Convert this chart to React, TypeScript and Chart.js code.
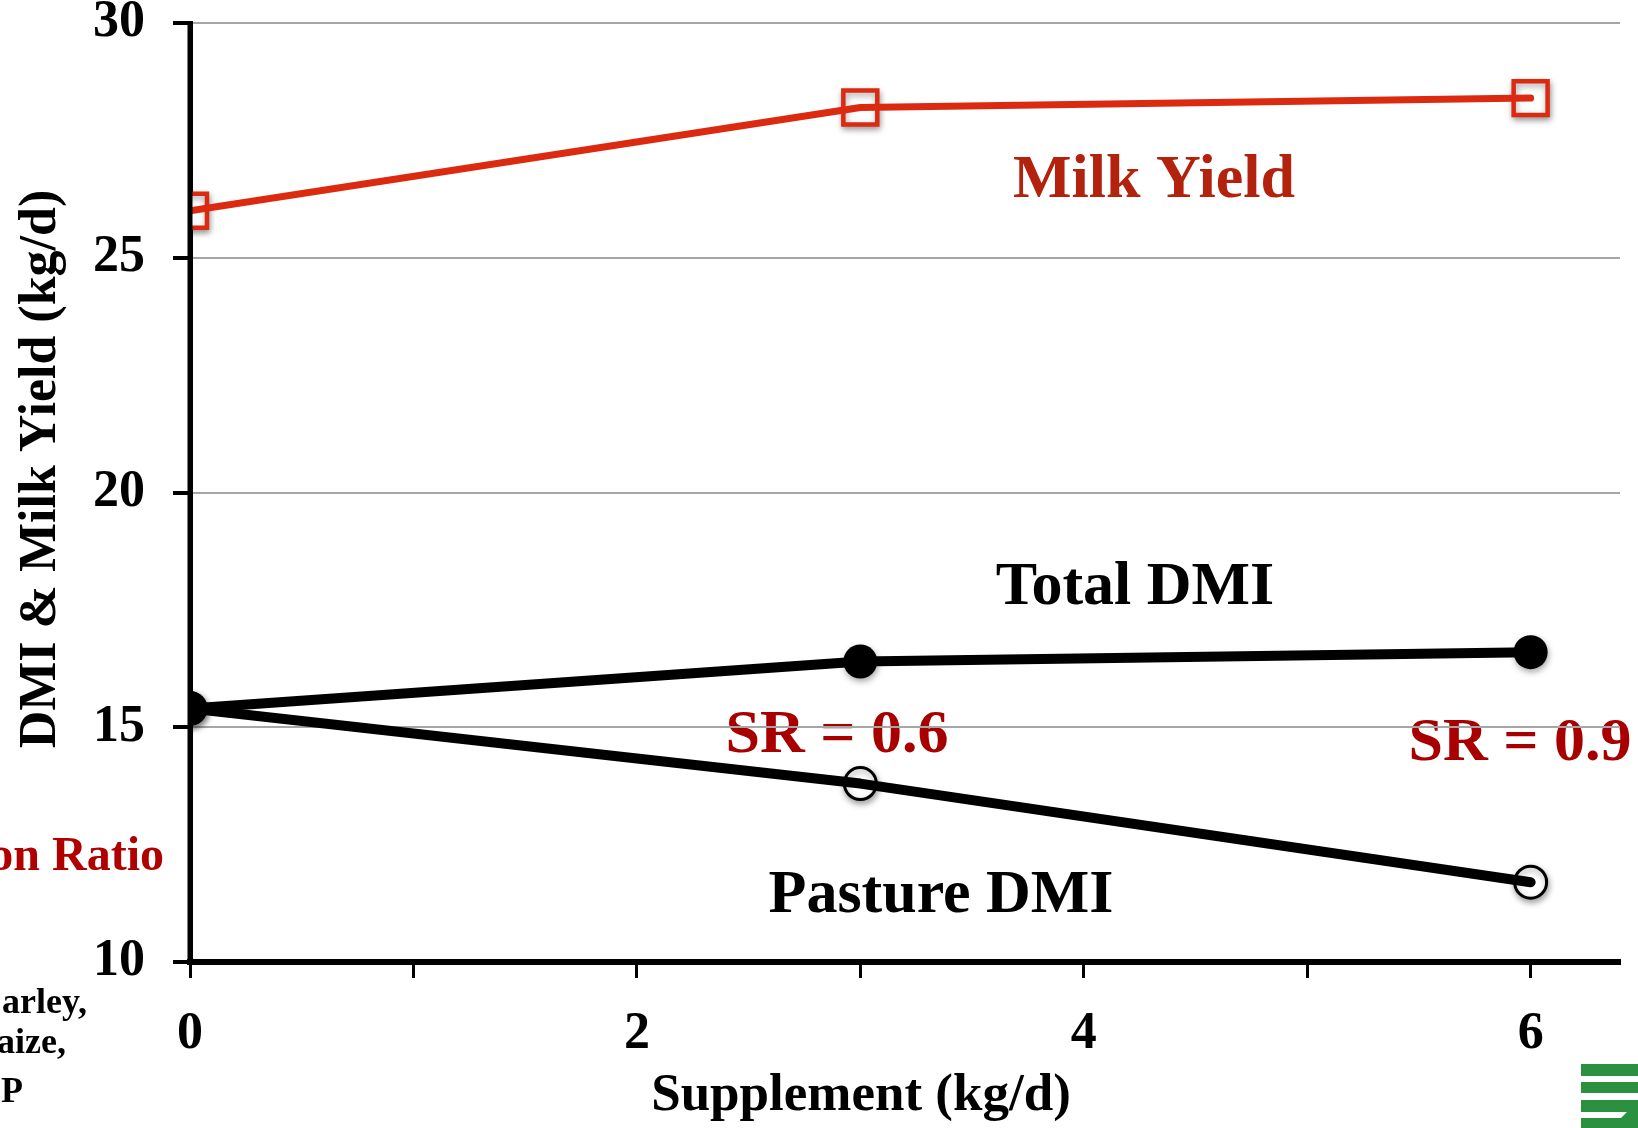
import React, { useEffect, useRef } from 'react';
import { Chart, registerables } from 'chart.js';

Chart.register(...registerables);

// ---- data ----
const supplement = [0, 3, 6];
const milkYield = [26.0, 28.2, 28.4];
const totalDMI = [15.4, 16.4, 16.6];
const pastureDMI = [15.4, 13.8, 11.7];

const xTickValues = [0, 1, 2, 3, 4, 5, 6];
const xTickLabels = ['0', '', '2', '', '4', '', '6'];
const yTickValues = [10, 15, 20, 25, 30];

const xTitle = 'Supplement (kg/d)';
const yTitle = 'DMI & Milk Yield (kg/d)';

const annotationTexts = ['Milk Yield', 'Total DMI', 'Pasture DMI', 'SR = 0.6', 'SR = 0.9', 'on Ratio', 'arley,', 'aize,', 'P'];

// ---- styles ----
const SERIF = "'Liberation Serif', 'Times New Roman', serif";
const W = 1638;
const H = 1128;

const annotationStyle = [
  { x: 1154, y: 197, color: '#b3220c', size: 62, align: 'center' },
  { x: 1135, y: 604, color: '#000000', size: 62, align: 'center' },
  { x: 941, y: 912, color: '#000000', size: 62, align: 'center' },
  { x: 837, y: 752, color: '#a80000', size: 62, align: 'center' },
  { x: 1520, y: 760, color: '#a80000', size: 62, align: 'center' },
  { x: 164, y: 870, color: '#b00000', size: 48, align: 'right' },
  { x: 87, y: 1013, color: '#000000', size: 36, align: 'right' },
  { x: 66, y: 1053, color: '#000000', size: 36, align: 'right' },
  { x: 23, y: 1102, color: '#000000', size: 36, align: 'right' },
];

const decorPlugin = {
  id: 'decor',
  beforeDraw(chart: any) {
    const ctx = chart.ctx;
    ctx.save();
    ctx.fillStyle = '#ffffff';
    ctx.fillRect(0, 0, chart.width, chart.height);
    annotationTexts.forEach((t, i) => {
      const s = annotationStyle[i];
      ctx.font = `bold ${s.size}px ${SERIF}`;
      ctx.fillStyle = s.color;
      ctx.textAlign = s.align;
      ctx.textBaseline = 'alphabetic';
      ctx.fillText(t, s.x, s.y);
    });
    ctx.restore();
  },
  beforeDatasetDraw(chart: any, args: any) {
    const ds = chart.data.datasets[args.index];
    if (ds && ds.shadow) {
      const ctx = chart.ctx;
      ctx.save();
      ctx.shadowColor = 'rgba(0,0,0,0.35)';
      ctx.shadowBlur = 6;
      ctx.shadowOffsetX = 1;
      ctx.shadowOffsetY = 3;
    }
  },
  afterDatasetDraw(chart: any, args: any) {
    const ds = chart.data.datasets[args.index];
    if (ds && ds.shadow) chart.ctx.restore();
  },
  afterDatasetsDraw(chart: any) {
    // y axis line drawn over the markers
    const ctx = chart.ctx;
    const xs = chart.scales.x;
    const ys = chart.scales.y;
    const x0 = xs.getPixelForValue(0);
    ctx.save();
    ctx.strokeStyle = '#000000';
    ctx.lineWidth = 5;
    ctx.beginPath();
    ctx.moveTo(x0, ys.getPixelForValue(30));
    ctx.lineTo(x0, ys.getPixelForValue(10));
    ctx.stroke();
    ctx.restore();
  },
  afterDraw(chart: any) {
    const ctx = chart.ctx;
    ctx.save();
    // axis titles
    ctx.fillStyle = '#000000';
    ctx.font = `bold 53px ${SERIF}`;
    ctx.textAlign = 'center';
    ctx.textBaseline = 'alphabetic';
    ctx.fillText(xTitle, 861, 1110);
    ctx.font = `bold 52px ${SERIF}`;
    ctx.save();
    ctx.translate(55, 469);
    ctx.rotate(-Math.PI / 2);
    ctx.fillText(yTitle, 0, 0);
    ctx.restore();
    // logo
    ctx.fillStyle = '#2b9140';
    ctx.fillRect(1581, 1064, 57, 12);
    ctx.fillRect(1581, 1082, 57, 11);
    ctx.fillRect(1581, 1100, 57, 28);
    ctx.fillStyle = '#ffffff';
    ctx.beginPath();
    ctx.moveTo(1581, 1112);
    ctx.lineTo(1627, 1112);
    ctx.lineTo(1621, 1118);
    ctx.lineTo(1581, 1118);
    ctx.closePath();
    ctx.fill();
    ctx.restore();
  },
};

export default function App() {
  const ref = useRef<HTMLCanvasElement | null>(null);

  useEffect(() => {
    document.body.style.margin = '0';
    const canvas = ref.current;
    if (!canvas) return;
    const pts = (ys: number[]) => supplement.map((x, i) => ({ x, y: ys[i] }));

    const chart = new Chart(canvas, {
      type: 'line',
      data: {
        datasets: [
          {
            label: 'Pasture DMI points',
            data: pts(pastureDMI),
            showLine: false,
            pointStyle: 'circle',
            pointRadius: 16,
            pointBorderWidth: 3,
            pointBorderColor: '#000000',
            pointBackgroundColor: '#ffffff',
            order: 6,
            shadow: true,
          } as any,
          {
            label: 'Milk Yield points',
            data: pts(milkYield),
            showLine: false,
            pointStyle: 'rect',
            pointRadius: 24,
            pointBorderWidth: 4.5,
            pointBorderColor: '#dc2a10',
            pointBackgroundColor: '#ffffff',
            order: 5,
            shadow: true,
          } as any,
          {
            label: 'Pasture DMI',
            data: pts(pastureDMI),
            borderColor: '#000000',
            borderWidth: 10,
            pointRadius: 0,
            order: 4,
          },
          {
            label: 'Total DMI',
            data: pts(totalDMI),
            borderColor: '#000000',
            borderWidth: 10,
            pointRadius: 0,
            order: 3,
          },
          {
            label: 'Total DMI points',
            data: pts(totalDMI),
            showLine: false,
            pointStyle: 'circle',
            pointRadius: 17,
            pointBorderWidth: 0,
            pointBackgroundColor: '#000000',
            pointBorderColor: '#000000',
            order: 2,
            shadow: true,
          } as any,
          {
            label: 'Milk Yield',
            data: pts(milkYield),
            borderColor: '#dc2a10',
            borderWidth: 7,
            pointRadius: 0,
            order: 1,
          },
        ],
      },
      options: {
        responsive: false,
        animation: false,
        devicePixelRatio: 1,
        layout: { autoPadding: false, padding: { left: 0, top: 23, right: 18, bottom: 0 } },
        plugins: {
          legend: { display: false },
          tooltip: { enabled: false },
          title: { display: false },
        },
        elements: { line: { tension: 0, borderCapStyle: 'round', borderJoinStyle: 'round' } },
        scales: {
          x: {
            type: 'linear',
            min: 0,
            max: 6.4,
            afterBuildTicks: (scale: any) => {
              scale.ticks = xTickValues.map((v) => ({ value: v }));
            },
            afterFit: (scale: any) => {
              scale.height = 166;
              scale.paddingLeft = 0;
              scale.paddingRight = 0;
            },
            ticks: {
              autoSkip: false,
              maxRotation: 0,
              padding: 25,
              color: '#000000',
              font: { family: SERIF, size: 52, weight: 'bold' },
              callback: (v: any) => {
                const i = xTickValues.indexOf(Number(v));
                return i >= 0 ? xTickLabels[i] : '';
              },
            },
            grid: {
              drawOnChartArea: false,
              drawTicks: true,
              tickLength: 16,
              tickColor: '#000000',
              tickWidth: 3,
            },
            border: { display: true, color: '#000000', width: 6 },
          },
          y: {
            type: 'linear',
            min: 10,
            max: 30,
            afterBuildTicks: (scale: any) => {
              scale.ticks = yTickValues.map((v) => ({ value: v }));
            },
            afterFit: (scale: any) => {
              scale.width = 190;
              scale.paddingTop = 0;
              scale.paddingBottom = 0;
            },
            ticks: {
              padding: 28,
              color: '#000000',
              font: { family: SERIF, size: 52, weight: 'bold' },
              callback: (v: any) => String(v),
            },
            grid: {
              color: '#a6a6a6',
              lineWidth: 2,
              drawTicks: true,
              tickLength: 17,
              tickColor: '#000000',
              tickWidth: 4,
            },
            border: { display: true, color: '#000000', width: 5 },
          },
        },
      },
      plugins: [decorPlugin],
    } as any);

    return () => chart.destroy();
  }, []);

  return (
    <div style={{ position: 'absolute', left: 0, top: 0, width: W, height: H, background: '#ffffff' }}>
      <canvas ref={ref} width={W} height={H} style={{ display: 'block', width: W, height: H }} />
    </div>
  );
}
